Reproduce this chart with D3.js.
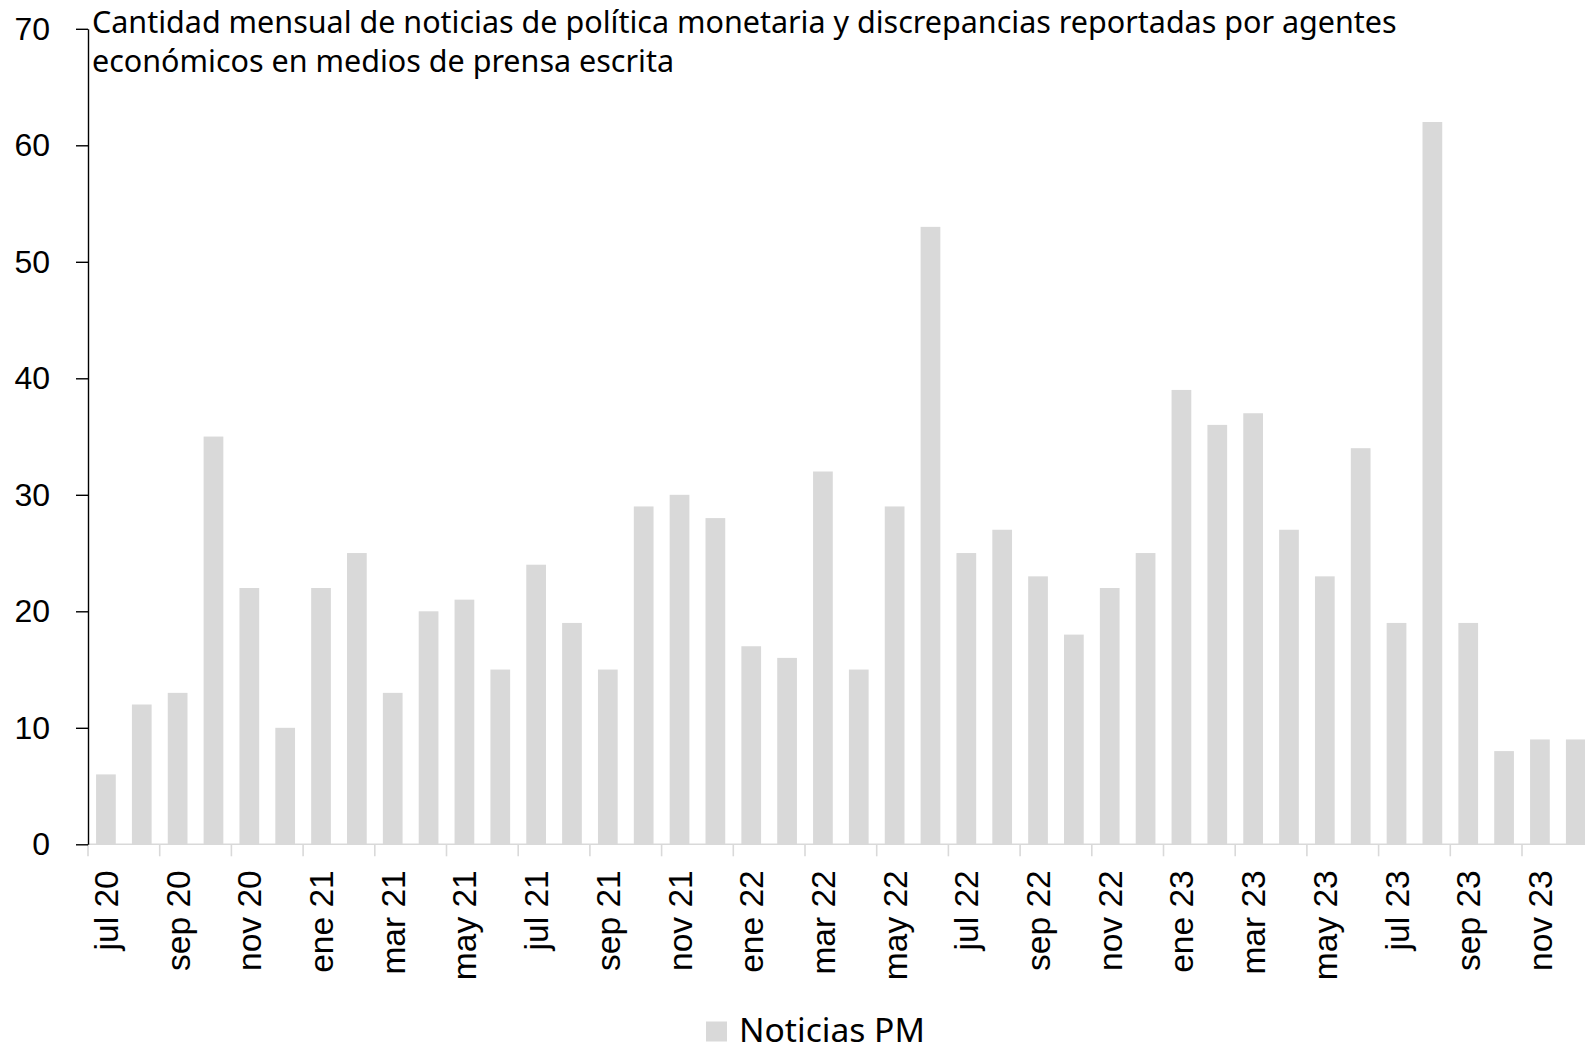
<!DOCTYPE html>
<html>
<head>
<meta charset="utf-8">
<script src="https://cdn.jsdelivr.net/npm/d3@7"></script>
<style>
  html, body { margin: 0; padding: 0; background: #fff; overflow: hidden; }
  svg { display: block; }
</style>
</head>
<body>
<svg id="chart" width="1585" height="1044"></svg>
<script>
// ---- data ----
const months = [
  "jul 20","ago 20","sep 20","oct 20","nov 20","dic 20",
  "ene 21","feb 21","mar 21","abr 21","may 21","jun 21","jul 21","ago 21","sep 21","oct 21","nov 21","dic 21",
  "ene 22","feb 22","mar 22","abr 22","may 22","jun 22","jul 22","ago 22","sep 22","oct 22","nov 22","dic 22",
  "ene 23","feb 23","mar 23","abr 23","may 23","jun 23","jul 23","ago 23","sep 23","oct 23","nov 23","dic 23"
];
const noticiasPM = [
  6, 12, 13, 35, 22, 10,
  22, 25, 13, 20, 21, 15, 24, 19, 15, 29, 30, 28,
  17, 16, 32, 15, 29, 53, 25, 27, 23, 18, 22, 25,
  39, 36, 37, 27, 23, 34, 19, 62, 19, 8, 9, 9
];
const yTicks = [0, 10, 20, 30, 40, 50, 60, 70];
const xTickLabels = months.filter((d, i) => i % 2 === 0);
const titleLines = [
  "Cantidad mensual de noticias de política monetaria y discrepancias reportadas por agentes",
  "económicos en medios de prensa escrita"
];
const seriesName = "Noticias PM";

// ---- layout ----
const svg = d3.select("#chart");
const plotLeft = 88, plotBottom = 844.3, plotTop = 28.8;
const step = 35.85;
const barColor = "#d9d9d9";

const x = d3.scaleBand()
  .domain(months)
  .range([plotLeft, plotLeft + step * months.length])
  .paddingInner(0.45)
  .paddingOuter(0.225);

const y = d3.scaleLinear().domain([0, 70]).range([plotBottom, plotTop]);

// bars
svg.append("g").selectAll("rect")
  .data(noticiasPM)
  .join("rect")
  .attr("x", (d, i) => x(months[i]))
  .attr("y", d => y(d))
  .attr("width", x.bandwidth())
  .attr("height", d => y(0) - y(d))
  .attr("fill", barColor);

// x axis (line + ticks at band boundaries + labels at centers)
const gx = svg.append("g");
gx.append("line")
  .attr("x1", plotLeft).attr("x2", 1585)
  .attr("y1", plotBottom).attr("y2", plotBottom)
  .attr("stroke", barColor).attr("stroke-width", 1.6);
const off = (x.step() - x.bandwidth()) / 2;
gx.selectAll("line.tick")
  .data(xTickLabels)
  .join("line")
  .attr("class", "tick")
  .attr("x1", d => x(d) - off).attr("x2", d => x(d) - off)
  .attr("y1", plotBottom).attr("y2", plotBottom + 12)
  .attr("stroke", barColor).attr("stroke-width", 1.6);

const xAxis = d3.axisBottom(x).tickValues(xTickLabels).tickSize(0).tickPadding(0);
const gxl = svg.append("g").attr("transform", `translate(0,${plotBottom})`).call(xAxis);
gxl.select(".domain").remove();
gxl.selectAll("text")
  .attr("font-family", "'Liberation Sans', Arial, sans-serif")
  .attr("font-size", 33.5)
  .attr("fill", "#000")
  .attr("text-anchor", "end")
  .attr("transform", "rotate(-90)")
  .attr("x", -26)
  .attr("y", 0)
  .attr("dy", "0.36em");

// y axis
const yAxis = d3.axisLeft(y).tickValues(yTicks).tickSize(12).tickPadding(26).tickSizeOuter(0);
const gy = svg.append("g").attr("transform", `translate(${plotLeft},0)`).call(yAxis);
gy.select(".domain").attr("stroke", "#000").attr("stroke-width", 1.4);
gy.selectAll(".tick line").attr("stroke", "#000").attr("stroke-width", 1.4);
gy.selectAll("text")
  .attr("font-family", "'Liberation Sans', Arial, sans-serif")
  .attr("font-size", 32)
  .attr("fill", "#000");

// title
const titleFont = "'Noto Sans', 'Open Sans', sans-serif";
const title = svg.append("g");
const t1 = title.append("text")
  .attr("x", 92).attr("y", 33)
  .attr("font-family", titleFont)
  .attr("font-size", 28)
  .attr("fill", "#000")
  .text(titleLines[0]);
const w = t1.node().getComputedTextLength();
const fs = 28 * 1305 / w;
t1.attr("font-size", fs);
title.append("text")
  .attr("x", 92).attr("y", 71.5)
  .attr("font-family", titleFont)
  .attr("font-size", fs)
  .attr("fill", "#000")
  .text(titleLines[1]);

// legend
const lg = svg.append("g");
lg.append("rect")
  .attr("x", 706).attr("y", 1021.5)
  .attr("width", 21).attr("height", 20)
  .attr("fill", barColor);
const lt = lg.append("text")
  .attr("x", 739).attr("y", 1041.5)
  .attr("font-family", titleFont)
  .attr("font-size", 30)
  .attr("fill", "#000")
  .text(seriesName);
const lw = lt.node().getComputedTextLength();
lt.attr("font-size", 30 * 186 / lw);
</script>
</body>
</html>
